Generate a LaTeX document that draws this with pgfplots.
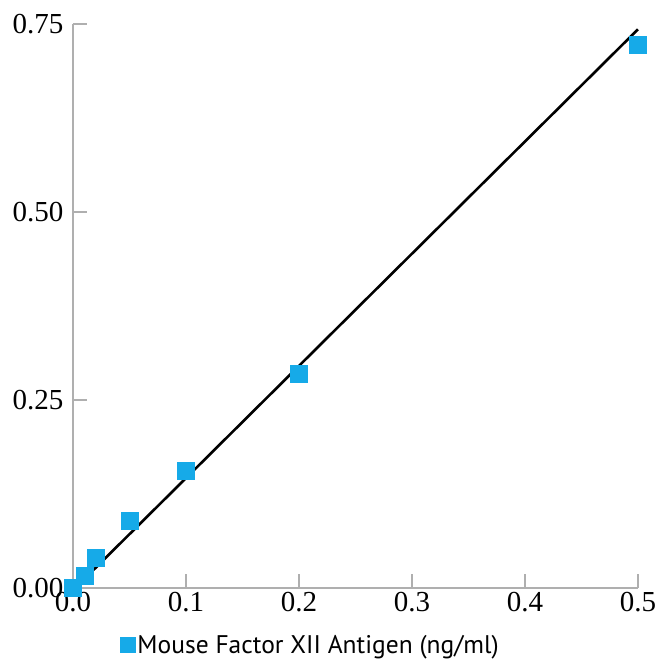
\documentclass[border=0pt]{standalone}
\usepackage{fontspec}
\setmainfont{Liberation Serif}
\newfontfamily\legfont{PT Sans}
\usepackage{pgfplots}
\pgfplotsset{compat=1.18}
\definecolor{markblue}{RGB}{22,170,232}
\definecolor{axgrey}{RGB}{175,175,175}

\begin{document}
\begin{tikzpicture}
\begin{axis}[
  scale only axis,
  width=565pt, height=564pt,
  xmin=0, xmax=0.5, ymin=0, ymax=0.75,
  axis lines*=left,
  axis line style={axgrey, line width=1.2pt},
  tick style={axgrey, line width=1.2pt},
  major tick length=14pt,
  tick align=inside,
  xtick={0,0.1,0.2,0.3,0.4,0.5},
  ytick={0,0.25,0.5,0.75},
  xticklabels={0.0,0.1,0.2,0.3,0.4,0.5},
  yticklabels={0.00,0.25,0.50,0.75},
  ticklabel style={font=\fontsize{29}{32}\selectfont},
  xticklabel style={yshift=-1pt},
  yticklabel style={xshift=-6pt},
  clip=false,
  legend style={draw=none, fill=none, at={(0.083,-0.101)}, anchor=west,
    font=\legfont\fontsize{25.5}{28}\selectfont, inner sep=0pt,
    nodes={inner xsep=2pt}},
  legend cell align=left,
  legend image code/.code={\fill[markblue] (0pt,-7.5pt) rectangle (15pt,7.5pt);},
]
% fitted line
\addplot[black, line width=2.6pt, forget plot] coordinates {(0,-0.003) (0.5,0.743)};
\addplot[only marks, mark=square*, mark size=8.5pt, markblue] coordinates {
  (0,0) (0.01,0.017) (0.02,0.040) (0.05,0.090) (0.1,0.156) (0.2,0.285) (0.5,0.723)
};
\legend{Mouse Factor XII Antigen (ng/ml)}
\end{axis}
\path[use as bounding box] (-73pt,-76pt) rectangle (588pt,588pt);
\end{tikzpicture}
\end{document}
